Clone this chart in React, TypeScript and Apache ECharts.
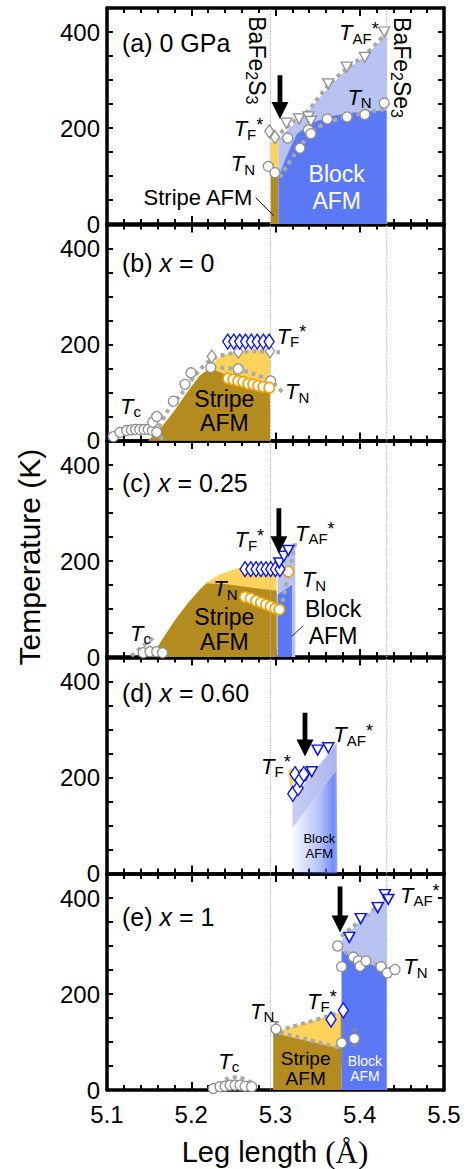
import React, { useEffect, useRef } from "react";
import * as echarts from "echarts";

const FONT = '"Liberation Sans", Arial, Helvetica, sans-serif';
const SERIF = '"Liberation Serif", "Times New Roman", serif';

const X_MIN = 5.1;
const X_MAX = 5.5;
const Y_MAX = 450;
const yLabelTicks = [0, 200, 400];
const compoundLegs = [5.294, 5.432]; // BaFe2S3, BaFe2Se3

// ---------- (a) 0 GPa ----------
const aTFDiamond = [[5.2926, 193], [5.2994, 181]];
const aTNCircle = [[5.2915, 120], [5.2994, 107], [5.3145, 179], [5.329, 158], [5.339, 196], [5.342, 188], [5.3615, 219], [5.385, 223], [5.406, 228], [5.429, 252]];
const aTAFTriangle = [[5.313, 210], [5.328, 219], [5.339, 223], [5.342, 214], [5.3627, 292], [5.3845, 327], [5.406, 347], [5.429, 400]];
const aTAFCurve = [[5.306, 190], [5.32, 212], [5.337, 233], [5.3627, 289], [5.3845, 324], [5.408, 355], [5.432, 400]];
const aTNCurve = [[5.3053, 97], [5.323, 146], [5.343, 191], [5.3627, 212], [5.39, 226], [5.432, 240]];
const aFerroStrip = [[5.2945, 0], [5.2945, 170], [5.3035, 175], [5.3035, 0]];
const aStripeStrip = [[5.2945, 0], [5.2945, 104], [5.3035, 104], [5.3035, 0]];
const aBlockOuter = [[5.3035, 0], [5.3035, 176], [5.315, 198], [5.337, 232], [5.3627, 284], [5.3845, 322], [5.408, 352], [5.432, 395], [5.432, 0]];
const aBlockInner = [[5.3035, 0], [5.3035, 97], [5.311, 132], [5.318, 160], [5.3255, 188], [5.345, 212], [5.37, 226], [5.395, 233], [5.432, 237], [5.432, 0]];
const aStripeLeader = [[5.2765, 55], [5.2982, 17]];
const aArrow = [[5.3053, 310, 219]];
const aTexts = [
  { x: 5.1178, y: 377, t: "(a) 0 GPa", s: 25, al: "left" },
  { x: 5.2786, y: 341, t: "BaFe{sub|2}S{sub|3}", s: 23, al: "center", rot: -90 },
  { x: 5.4507, y: 326, t: "BaFe{sub|2}Se{sub|3}", s: 23, al: "center", rot: -90 },
  { x: 5.4225, y: 398, t: "{it|T}{sub|AF}{sup|*}", s: 22, al: "right" },
  { x: 5.4142, y: 264, t: "{it|T}{sub|N}", s: 22, al: "right" },
  { x: 5.2855, y: 198, t: "{it|T}{sub|F}{sup|*}", s: 22, al: "right" },
  { x: 5.2757, y: 126, t: "{it|T}{sub|N}", s: 22, al: "right" },
  { x: 5.2725, y: 55, t: "Stripe AFM", s: 22, al: "right" },
  { x: 5.3727, y: 76, t: "Block\nAFM", s: 23, lh: 27, al: "center", c: "#ffffff" },
];

// ---------- (b) x = 0 ----------
const bTcCircle = [[5.1075, 8], [5.1154, 17], [5.1234, 21], [5.129, 22], [5.134, 23], [5.139, 23], [5.144, 23], [5.149, 23], [5.154, 21], [5.159, 17], [5.1542, 38], [5.159, 50]];
const bTNCircle = [[5.1787, 82], [5.1926, 117], [5.1997, 141], [5.2232, 152], [5.2558, 149], [5.2942, 124]];
const bTFDiamond = [[5.2243, 175], [5.2558, 185], [5.2935, 186]];
const bOrangeCircle = [[5.244, 129], [5.25, 127], [5.2558, 124], [5.2617, 122], [5.2677, 118], [5.2736, 117], [5.2795, 114], [5.2855, 112], [5.2926, 110]];
const bBlueDiamond = [[5.2433, 206], [5.2504, 206], [5.2575, 206], [5.2644, 206], [5.2713, 206], [5.2783, 206], [5.2856, 206], [5.2924, 206]];
const bTFCurve = [[5.162, 28], [5.171, 59], [5.1886, 98], [5.2104, 148], [5.2262, 171], [5.25, 182], [5.2777, 186], [5.3053, 184]];
const bTNCurve = [[5.225, 153], [5.256, 148], [5.275, 138], [5.294, 124], [5.308, 101]];
const bTcCurve = [[5.156, 20], [5.168, 0]];
const bFerro = [[5.149, 0], [5.165, 28], [5.18, 62], [5.195, 100], [5.21, 135], [5.222, 152], [5.232, 172], [5.245, 183], [5.265, 188], [5.2935, 190], [5.2935, 0]];
const bStripe = [[5.149, 0], [5.165, 28], [5.18, 62], [5.195, 100], [5.21, 135], [5.222, 150], [5.25, 132], [5.275, 115], [5.2935, 100], [5.2935, 0]];
const bTexts = [
  { x: 5.1178, y: 369, t: "(b) {x|x} = 0", s: 25, al: "left" },
  { x: 5.3014, y: 217, t: "{it|T}{sub|F}{sup|*}", s: 22, al: "left" },
  { x: 5.3113, y: 102, t: "{it|T}{sub|N}", s: 22, al: "left" },
  { x: 5.1154, y: 71, t: "{it|T}{sub|c}", s: 22, al: "left" },
  { x: 5.2393, y: 61, t: "Stripe\nAFM", s: 23, lh: 24.5, al: "center" },
];

// ---------- (c) x = 0.25 ----------
const cTcCircle = [[5.143, 9], [5.151, 11], [5.159, 11], [5.166, 9]];
const cOrangeCircle = [[5.2638, 125], [5.2706, 122], [5.2769, 117], [5.2828, 113], [5.2887, 109], [5.2943, 105], [5.2998, 101], [5.3045, 99], [5.3152, 178]];
const cBlueDiamond = [[5.2638, 183], [5.2706, 183], [5.2769, 183], [5.2828, 183], [5.2887, 183], [5.2943, 183], [5.2998, 183], [5.3053, 183]];
const cBlueTriangle = [[5.3045, 196], [5.31, 210], [5.3152, 222]];
const cBlockCurve = [[5.3235, 237], [5.3195, 205], [5.315, 168], [5.3095, 125], [5.3055, 92]];
const cTcCurve = [[5.129, 2], [5.142, 22], [5.157, 43]];
const cFerro = [[5.153, 0], [5.165, 35], [5.18, 75], [5.195, 110], [5.21, 140], [5.218, 155], [5.235, 173], [5.255, 185], [5.28, 190], [5.3014, 192], [5.3014, 0]];
const cStripe = [[5.153, 0], [5.165, 35], [5.18, 75], [5.195, 110], [5.21, 140], [5.218, 153], [5.24, 152], [5.27, 145], [5.3014, 138], [5.3014, 0]];
const cBlockOuter = [[5.3025, 0], [5.3025, 195], [5.3235, 236], [5.3235, 0]];
const cBlockInner = [[5.3025, 0], [5.3025, 130], [5.3195, 150], [5.3195, 0]];
const cBlockLeader = [[5.3192, 43], [5.333, 65]];
const cArrow = [[5.304, 310, 216]];
const cTexts = [
  { x: 5.1178, y: 362, t: "(c) {x|x} = 0.25", s: 25, al: "left" },
  { x: 5.2865, y: 244, t: "{it|T}{sub|F}{sup|*}", s: 22, al: "right" },
  { x: 5.3231, y: 258, t: "{it|T}{sub|AF}{sup|*}", s: 22, al: "left" },
  { x: 5.3311, y: 161, t: "{it|T}{sub|N}", s: 22, al: "left" },
  { x: 5.2262, y: 142, t: "{it|T}{sub|N}", s: 22, al: "left" },
  { x: 5.1273, y: 50, t: "{it|T}{sub|c}", s: 22, al: "left" },
  { x: 5.2393, y: 57.5, t: "Stripe\nAFM", s: 23, lh: 24.5, al: "center" },
  { x: 5.3683, y: 71, t: "Block\nAFM", s: 23, lh: 27, al: "center" },
];

// ---------- (d) x = 0.60 ----------
const dBlueDiamond = [[5.3205, 166], [5.3232, 207], [5.3268, 178], [5.329, 195], [5.3335, 207]];
const dBlueTriangle = [[5.336, 205], [5.343, 212], [5.35, 257], [5.3627, 262]];
const dFerro = [[5.315, 215], [5.3205, 220], [5.3205, 158], [5.318, 165]];
const dBand = [[5.32, 154], [5.3726, 272], [5.3726, 217], [5.32, 95]];
const dBlock = [[5.32, 0], [5.32, 95], [5.3726, 217], [5.3735, 0]];
const dArrow = [[5.335, 335, 244]];
const dTexts = [
  { x: 5.1178, y: 376, t: "(d) {x|x} = 0.60", s: 25, al: "left" },
  { x: 5.318, y: 223, t: "{it|T}{sub|F}{sup|*}", s: 22, al: "right" },
  { x: 5.3686, y: 289, t: "{it|T}{sub|AF}{sup|*}", s: 22, al: "left" },
  { x: 5.352, y: 57.5, t: "Block\nAFM", s: 13, lh: 14.5, al: "center" },
];

// ---------- (e) x = 1 ----------
const eTNCircle = [[5.3738, 300], [5.3785, 257], [5.3924, 277], [5.3983, 269], [5.4003, 258], [5.4074, 269], [5.4252, 257], [5.4327, 244], [5.4418, 251]];
const eBlueTriangle = [[5.3876, 318], [5.4011, 357], [5.4213, 380], [5.4299, 407], [5.4339, 397]];
const eBlueDiamond = [[5.3659, 147], [5.3805, 166]];
const eLowCircle = [[5.3006, 127], [5.3785, 98], [5.3936, 107]];
const eErrorBar = [[5.3006, 112, 142], [5.3936, 92, 126]];
const eTcCircle = [[5.2262, 3], [5.2341, 7], [5.2401, 8], [5.246, 10], [5.2519, 10], [5.2579, 10], [5.2638, 8], [5.2717, 7]];
const eTAFCurve = [[5.378, 320], [5.39, 338], [5.41, 365], [5.432, 405]];
const eTNCurve = [[5.374, 298], [5.39, 280], [5.41, 266], [5.43, 256], [5.44, 252]];
const eTFCurve = [[5.303, 124], [5.34, 142], [5.3805, 164]];
const eTNLowCurve = [[5.3053, 120], [5.34, 104], [5.3766, 88]];
const eTcCurve = [[5.24, 22], [5.255, 27], [5.272, 15]];
const eGapLine = [[5.3785, 50], [5.3785, 165]];
const eFerro = [[5.2974, 0], [5.2974, 120], [5.3785, 163], [5.3785, 0]];
const eStripe = [[5.2974, 0], [5.2974, 119], [5.3785, 86], [5.3785, 0]];
const eBlockOuter = [[5.3785, 0], [5.3785, 312], [5.40, 352], [5.42, 382], [5.432, 402], [5.432, 0]];
const eBlockInner = [[5.3785, 0], [5.3785, 290], [5.40, 268], [5.42, 258], [5.432, 252], [5.432, 0]];
const eArrow = [[5.3766, 424, 328]];
const eTexts = [
  { x: 5.1178, y: 361, t: "(e) {x|x} = 1", s: 25, al: "left" },
  { x: 5.4478, y: 406, t: "{it|T}{sub|AF}{sup|*}", s: 22, al: "left" },
  { x: 5.4517, y: 257, t: "{it|T}{sub|N}", s: 22, al: "left" },
  { x: 5.3726, y: 185, t: "{it|T}{sub|F}{sup|*}", s: 22, al: "right" },
  { x: 5.2697, y: 164, t: "{it|T}{sub|N}", s: 22, al: "left" },
  { x: 5.2321, y: 60, t: "{it|T}{sub|c}", s: 22, al: "left" },
  { x: 5.3358, y: 45, t: "Stripe\nAFM", s: 19, lh: 20, al: "center" },
  { x: 5.4062, y: 44.5, t: "Block\nAFM", s: 14, lh: 15.5, al: "center", c: "#ffffff" },
];

// ---------- styles ----------
const BROWN = "#b38b1f";
const YELLOW = "#fdd35c";
const BLUE = "#5b78f5";
const LIGHTBLUE = "#b9c3f1";
const GREY = "#8e8e8e";
const ORANGE = "#f3a100";
const MBLUE = "#0a14f0";

const GRID_LEFT = 107;
const GRID_WIDTH = 337;
const GRID_TOPS = [8, 224.5, 441, 657.5, 874];
const GRID_H = 216;

function richFor(size: number, color: string) {
  const sub = Math.round(size * 0.68);
  return {
    it: { fontStyle: "italic", fontSize: size, fontFamily: FONT, fill: color, lineHeight: size + 4 },
    x: { fontStyle: "italic", fontSize: size, fontFamily: FONT, fill: color, lineHeight: size + 4 },
    sub: { fontSize: sub, fontFamily: FONT, fill: color, lineHeight: sub - 1, verticalAlign: "bottom" },
    sup: { fontSize: Math.round(size * 0.8), fontFamily: FONT, fill: color, lineHeight: Math.round(size * 0.7), verticalAlign: "top" },
  };
}

function ax(gi: number) {
  return { xAxisIndex: 2 * gi, yAxisIndex: 2 * gi };
}

function polygon(gi: number, pts: number[][], fill: any) {
  return {
    type: "custom",
    ...ax(gi),
    silent: true,
    z: 1,
    clip: false,
    data: pts,
    renderItem: (params: any, api: any) => {
      if (params.dataIndex !== 0) return null;
      const points = pts.map((p) => api.coord(p));
      return { type: "polygon", shape: { points }, style: { fill } };
    },
  };
}

function dotted(gi: number, pts: number[][]) {
  return {
    type: "line",
    ...ax(gi),
    silent: true,
    z: 3,
    data: pts,
    symbol: "none",
    smooth: 0.3,
    lineStyle: { color: "#a9a9a9", width: 4, type: [4, 4] },
  };
}

function solidLine(gi: number, pts: number[][], color: string, width: number) {
  return {
    type: "line",
    ...ax(gi),
    silent: true,
    z: 4,
    data: pts,
    symbol: "none",
    lineStyle: { color, width, type: "solid" },
  };
}

function refLine(gi: number, x: number) {
  return {
    type: "line",
    ...ax(gi),
    silent: true,
    z: 2,
    data: [[x, 0], [x, Y_MAX]],
    symbol: "none",
    lineStyle: { color: "#b4b4b4", width: 1.2, type: "dotted" },
  };
}

type Kind = "gc" | "gd" | "gt" | "oc" | "bd" | "bt";
function markers(gi: number, pts: number[][], kind: Kind) {
  const m: any = {
    gc: { symbol: "circle", size: 10, color: GREY, bw: 1.3, rot: 0 },
    gd: { symbol: "diamond", size: [9, 13], color: GREY, bw: 1.3, rot: 0 },
    gt: { symbol: "triangle", size: [11, 10], color: GREY, bw: 1.3, rot: 180 },
    oc: { symbol: "circle", size: 10.5, color: ORANGE, bw: 1.6, rot: 0 },
    bd: { symbol: "diamond", size: [10, 15], color: MBLUE, bw: 1.4, rot: 0 },
    bt: { symbol: "triangle", size: [11, 10], color: MBLUE, bw: 1.5, rot: 180 },
  }[kind];
  return {
    type: "scatter",
    ...ax(gi),
    silent: true,
    z: 5,
    data: pts,
    symbol: m.symbol,
    symbolSize: m.size,
    symbolRotate: m.rot,
    itemStyle: { color: "#ffffff", borderColor: m.color, borderWidth: m.bw, opacity: 1 },
  };
}

function arrow(gi: number, data: number[][]) {
  return {
    type: "custom",
    ...ax(gi),
    silent: true,
    z: 6,
    clip: false,
    data,
    encode: { x: 0, y: [1, 2] },
    renderItem: (params: any, api: any) => {
      const x = api.value(0);
      const top = api.coord([x, api.value(1)]);
      const tip = api.coord([x, api.value(2)]);
      const hl = 17, hw = 8.5, sw = 2.4;
      return {
        type: "group",
        children: [
          { type: "rect", shape: { x: top[0] - sw, y: top[1], width: sw * 2, height: tip[1] - hl - top[1] + 1 }, style: { fill: "#000" } },
          { type: "polygon", shape: { points: [[tip[0] - hw, tip[1] - hl], [tip[0] + hw, tip[1] - hl], [tip[0], tip[1]]] }, style: { fill: "#000" } },
        ],
      };
    },
  };
}

function errorBars(gi: number, data: number[][]) {
  return {
    type: "custom",
    ...ax(gi),
    silent: true,
    z: 4,
    clip: false,
    data,
    encode: { x: 0, y: [1, 2] },
    renderItem: (params: any, api: any) => {
      const x = api.value(0);
      const lo = api.coord([x, api.value(1)]);
      const hi = api.coord([x, api.value(2)]);
      const c = 3;
      const st = { stroke: "#8a8a8a", lineWidth: 1.6 };
      return {
        type: "group",
        children: [
          { type: "line", shape: { x1: lo[0], y1: lo[1], x2: hi[0], y2: hi[1] }, style: st },
          { type: "line", shape: { x1: lo[0] - c, y1: lo[1], x2: lo[0] + c, y2: lo[1] }, style: st },
          { type: "line", shape: { x1: hi[0] - c, y1: hi[1], x2: hi[0] + c, y2: hi[1] }, style: st },
        ],
      };
    },
  };
}

function texts(gi: number, items: any[]) {
  return {
    type: "custom",
    ...ax(gi),
    silent: true,
    z: 7,
    clip: false,
    data: items.map((it) => [it.x, it.y]),
    renderItem: (params: any, api: any) => {
      const it = items[params.dataIndex];
      const p = api.coord([it.x, it.y]);
      const color = it.c || "#000000";
      return {
        type: "text",
        x: p[0],
        y: p[1],
        rotation: it.rot ? (it.rot * Math.PI) / 180 : 0,
        style: {
          text: it.t,
          fontSize: it.s,
          fontFamily: FONT,
          fill: color,
          align: it.al || "left",
          verticalAlign: "middle",
          lineHeight: it.lh || it.s + 4,
          rich: richFor(it.s, color),
        },
      };
    },
  };
}

function buildOption() {
  const grid = GRID_TOPS.map((t) => ({ left: GRID_LEFT, top: t, width: GRID_WIDTH, height: GRID_H, show: false }));
  const axisLine = { show: true, onZero: false, lineStyle: { color: "#000", width: 3.5 } };
  const tickStyle = { color: "#000", width: 2 };
  const xAxis: any[] = [];
  const yAxis: any[] = [];
  GRID_TOPS.forEach((_, i) => {
    ["bottom", "top"].forEach((pos) => {
      xAxis.push({
        gridIndex: i,
        type: "value",
        position: pos,
        min: X_MIN,
        max: X_MAX,
        interval: 0.1,
        axisLine,
        axisTick: { show: true, inside: true, length: 8, lineStyle: tickStyle },
        minorTick: { show: true, splitNumber: 5, length: 5, lineStyle: tickStyle },
        splitLine: { show: false },
        minorSplitLine: { show: false },
        axisLabel: {
          show: pos === "bottom" && i === GRID_TOPS.length - 1,
          fontSize: 24,
          lineHeight: 20,
          fontFamily: FONT,
          color: "#000",
          margin: 14,
          formatter: (v: number) => v.toFixed(1),
        },
      });
    });
    ["left", "right"].forEach((pos) => {
      yAxis.push({
        gridIndex: i,
        type: "value",
        position: pos,
        min: 0,
        max: Y_MAX,
        interval: 50,
        axisLine,
        axisTick: { show: true, inside: true, length: 6, lineStyle: tickStyle },
        splitLine: { show: false },
        axisLabel: {
          show: pos === "left",
          fontSize: 24,
          lineHeight: 20,
          fontFamily: FONT,
          color: "#000",
          margin: 7,
          showMaxLabel: false,
          formatter: (v: number) => (yLabelTicks.includes(v) ? String(v) : ""),
        },
      });
    });
  });

  const series: any[] = [];
  GRID_TOPS.forEach((_, i) => compoundLegs.forEach((x) => series.push(refLine(i, x))));

  // (a)
  series.push(
    polygon(0, aFerroStrip, YELLOW),
    polygon(0, aStripeStrip, BROWN),
    polygon(0, aBlockOuter, LIGHTBLUE),
    polygon(0, aBlockInner, BLUE),
    dotted(0, aTAFCurve),
    dotted(0, aTNCurve),
    solidLine(0, aStripeLeader, "#000", 1),
    markers(0, aTAFTriangle, "gt"),
    markers(0, aTFDiamond, "gd"),
    markers(0, aTNCircle, "gc"),
    arrow(0, aArrow),
    texts(0, aTexts)
  );

  // (b)
  series.push(
    polygon(1, bFerro, YELLOW),
    polygon(1, bStripe, BROWN),
    dotted(1, bTFCurve),
    dotted(1, bTNCurve),
    dotted(1, bTcCurve),
    markers(1, bTcCircle, "gc"),
    markers(1, bTNCircle, "gc"),
    markers(1, bTFDiamond, "gd"),
    markers(1, bOrangeCircle, "oc"),
    markers(1, bBlueDiamond, "bd"),
    texts(1, bTexts)
  );

  // (c)
  series.push(
    polygon(2, cFerro, YELLOW),
    polygon(2, cStripe, BROWN),
    polygon(2, cBlockOuter, LIGHTBLUE),
    polygon(2, cBlockInner, BLUE),
    dotted(2, cBlockCurve),
    dotted(2, cTcCurve),
    solidLine(2, cBlockLeader, "#333", 1),
    markers(2, cTcCircle, "gc"),
    markers(2, cOrangeCircle, "oc"),
    markers(2, cBlueDiamond, "bd"),
    markers(2, cBlueTriangle, "bt"),
    arrow(2, cArrow),
    texts(2, cTexts)
  );

  // (d)
  const dBlockFill = new echarts.graphic.LinearGradient(0, 0, 1, 0, [
    { offset: 0, color: "rgba(91,120,245,0.04)" },
    { offset: 0.6, color: "rgba(91,120,245,0.45)" },
    { offset: 0.92, color: "rgba(91,120,245,0.85)" },
    { offset: 1, color: "rgba(91,120,245,0.6)" },
  ]);
  const dBandFill = new echarts.graphic.LinearGradient(0, 0, 1, 0, [
    { offset: 0, color: "#c9cff2" },
    { offset: 1, color: "#aab5ee" },
  ]);
  series.push(
    polygon(3, dBlock, dBlockFill),
    polygon(3, dBand, dBandFill),
    polygon(3, dFerro, YELLOW),
    markers(3, dBlueTriangle, "bt"),
    markers(3, dBlueDiamond, "bd"),
    arrow(3, dArrow),
    texts(3, dTexts)
  );

  // (e)
  series.push(
    polygon(4, eFerro, YELLOW),
    polygon(4, eStripe, BROWN),
    polygon(4, eBlockOuter, LIGHTBLUE),
    polygon(4, eBlockInner, BLUE),
    dotted(4, eTAFCurve),
    dotted(4, eTNCurve),
    dotted(4, eTFCurve),
    dotted(4, eTNLowCurve),
    dotted(4, eTcCurve),
    solidLine(4, eGapLine, "#8a8a8a", 2),
    errorBars(4, eErrorBar),
    markers(4, eTcCircle, "gc"),
    markers(4, eLowCircle, "gc"),
    markers(4, eTNCircle, "gc"),
    markers(4, eBlueTriangle, "bt"),
    markers(4, eBlueDiamond, "bd"),
    arrow(4, eArrow),
    texts(4, eTexts)
  );

  return {
    animation: false,
    backgroundColor: "#ffffff",
    grid,
    xAxis,
    yAxis,
    series,
    graphic: [
      {
        type: "text",
        x: 29,
        y: 557,
        rotation: Math.PI / 2,
        style: { text: "Temperature (K)", fontSize: 30, fontFamily: FONT, fill: "#000", align: "center", verticalAlign: "middle" },
      },
      {
        type: "text",
        x: 275,
        y: 1152,
        style: {
          text: "Leg length {s|(Å)}",
          fontSize: 29,
          fontFamily: FONT,
          fill: "#000",
          align: "center",
          verticalAlign: "middle",
          rich: { s: { fontFamily: SERIF, fontSize: 31, fill: "#000" } },
        },
      },
    ],
  };
}

export default function App() {
  const ref = useRef<HTMLDivElement>(null);
  useEffect(() => {
    if (!ref.current) return;
    const chart = echarts.init(ref.current, undefined, { renderer: "svg" });
    chart.setOption(buildOption() as any);
    return () => chart.dispose();
  }, []);
  return (
    <div
      ref={ref}
      style={{ position: "fixed", left: 0, top: 0, width: 472, height: 1169, background: "#fff" }}
    />
  );
}
